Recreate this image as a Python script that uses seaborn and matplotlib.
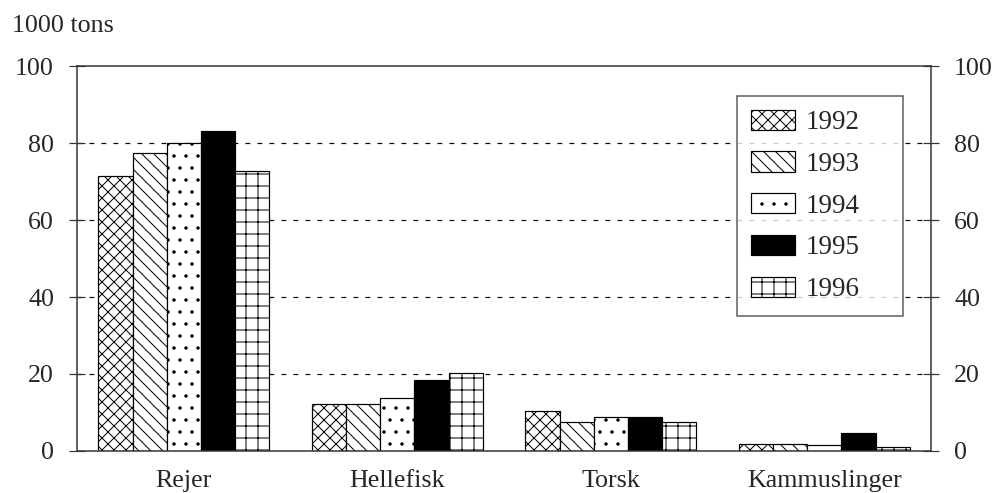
import numpy as np
import pandas as pd
import matplotlib
matplotlib.use("Agg")
import matplotlib.pyplot as plt
import seaborn as sns

# data (1000 tons)
species = ["Rejer", "Hellefisk", "Torsk", "Kammuslinger"]
years = ["1992", "1993", "1994", "1995", "1996"]
v1992 = [71.5, 12.2, 10.4, 1.7]
v1993 = [77.3, 12.2, 7.6, 1.7]
v1994 = [80.0, 13.8, 8.9, 1.6]
v1995 = [83.0, 18.5, 8.9, 4.8]
v1996 = [72.7, 20.3, 7.6, 1.1]

rows = []
for yr, vals in zip(years, [v1992, v1993, v1994, v1995, v1996]):
    for sp, v in zip(species, vals):
        rows.append({"species": sp, "year": yr, "tons": v})
df = pd.DataFrame(rows)

sns.set_style("white")
plt.rcParams["font.family"] = ["Liberation Serif", "DejaVu Serif"]
plt.rcParams["hatch.linewidth"] = 1.0

fig = plt.figure(figsize=(998 / 72, 493 / 72), dpi=72)
ax = fig.add_axes([0.0772, 0.0852, 0.8557, 0.7809])

palette = {"1992": "white", "1993": "white", "1994": "white", "1995": "black", "1996": "white"}
sns.barplot(data=df, x="species", y="tons", hue="year", order=species, hue_order=years,
            palette=palette, edgecolor="black", linewidth=1.2, width=0.8, legend=False,
            saturation=1, ax=ax)

hatches = ["xx", "\\\\", ".", "", "+"]
for cont, h in zip(ax.containers, hatches):
    for bar in cont:
        bar.set_hatch(h)

ax.set_xlim(-0.5, 3.5)
ax.set_ylim(0, 100)
ax.set_yticks([0, 20, 40, 60, 80, 100])
ax.set_xlabel("")
ax.set_ylabel("")

# dashed gridlines behind bars
ax.set_axisbelow(True)
for yv in [20, 40, 60, 80]:
    ax.axhline(yv, color="black", lw=1.2, linestyle=(0, (4, 6)), zorder=0)

for s in ax.spines.values():
    s.set_visible(True)
    s.set_color("#333333")
    s.set_linewidth(1.5)

ax.tick_params(axis="y", which="major", direction="inout", length=16, width=1.2,
               left=True, right=True, labelleft=True, labelright=True,
               labelsize=26, pad=15, color="#333333")
ax.set_xticks([-0.5, 0.5, 1.5, 2.5, 3.5], minor=True)
ax.tick_params(axis="x", which="minor", direction="out", length=10, width=1.2, color="#333333")
ax.tick_params(axis="x", which="major", length=0, labelsize=26, pad=19)

fig.text(0.012, 0.947, "1000 tons", fontsize=26, ha="left", va="center")

leg = ax.legend(ax.containers, years, loc="upper left",
                bbox_to_anchor=(0.773, 0.922, 0.194, 0.0), mode="expand",
                fontsize=27, frameon=True, fancybox=False, handlelength=1.63,
                handleheight=0.78, labelspacing=0.6, handletextpad=0.4,
                borderpad=0.5, borderaxespad=0)
leg.get_frame().set_edgecolor("#333333")
leg.get_frame().set_linewidth(1.5)

fig.savefig("out.png", dpi=72)
